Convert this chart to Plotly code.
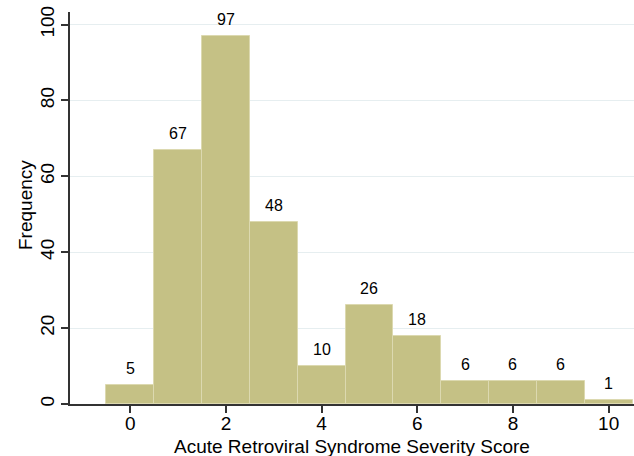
import plotly.graph_objects as go

scores = [0, 1, 2, 3, 4, 5, 6, 7, 8, 9, 10]
frequency = [5, 67, 97, 48, 10, 26, 18, 6, 6, 6, 1]
x_ticks = [0, 2, 4, 6, 8, 10]
y_ticks = [0, 20, 40, 60, 80, 100]
x_title = "Acute Retroviral Syndrome Severity Score"
y_title = "Frequency"

fig = go.Figure(go.Bar(
    x=scores, y=frequency, width=1,
    marker=dict(color="#c5c185", line=dict(color="#dcd9b0", width=1)),
    cliponaxis=False,
))

bar_labels = [
    dict(text=str(v), x=s, y=v, xref="x", yref="y", xanchor="center",
         yanchor="bottom", yshift=6, showarrow=False,
         font=dict(size=16, color="black"))
    for s, v in zip(scores, frequency)
]

fig.update_layout(
    width=634, height=456,
    margin=dict(l=70, r=0, t=12, b=52),
    paper_bgcolor="white", plot_bgcolor="white",
    font=dict(family="Liberation Sans, Arial", size=19, color="black"),
    showlegend=False, bargap=0,
    annotations=bar_labels + [
        dict(text=x_title, xref="paper", yref="paper", x=0.5, y=0,
             xanchor="center", yanchor="middle", yshift=-42, showarrow=False,
             font=dict(size=19)),
        dict(text=y_title, xref="paper", yref="paper", x=0, y=0.5,
             xanchor="center", yanchor="middle", xshift=-45, yshift=3,
             textangle=-90, showarrow=False, font=dict(size=19)),
    ],
)
fig.update_xaxes(
    range=[-1.26, 10.53], tickvals=x_ticks, ticks="outside", ticklen=7,
    tickwidth=1.5, tickcolor="#333", showline=True, linecolor="#333", linewidth=1.5,
    showgrid=False, zeroline=False, automargin=False,
    tickfont=dict(size=19), ticklabelstandoff=-6,
)
fig.update_yaxes(
    range=[0, 103.3], tickvals=y_ticks, ticks="outside", ticklen=7,
    tickwidth=1.5, tickcolor="#333", showline=True, linecolor="#333", linewidth=1.5,
    showgrid=True, gridcolor="#e6eef0", gridwidth=1, zeroline=False,
    tickangle=-90, tickfont=dict(size=19), automargin=False,
)

fig.write_html("out.html", config={"displayModeBar": False},
               post_script="document.body.style.margin='0';")
